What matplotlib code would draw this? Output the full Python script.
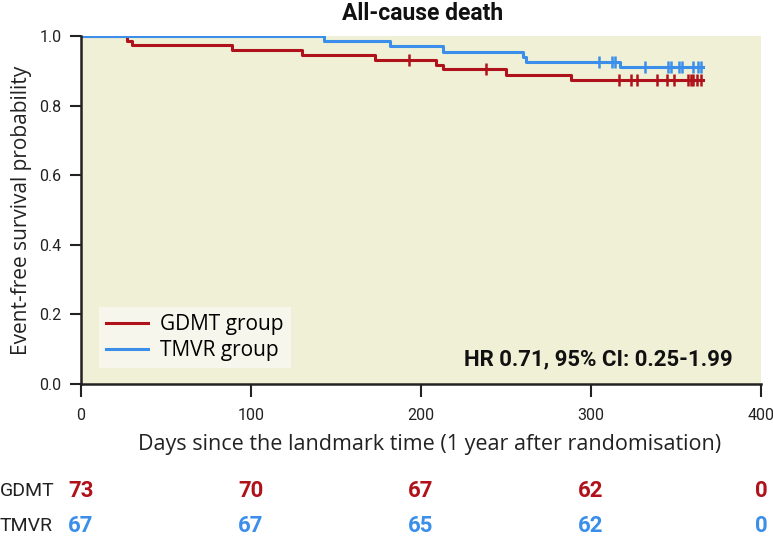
import numpy as np
import matplotlib
matplotlib.use('Agg')
import matplotlib.pyplot as plt

# step times (days) and survival after each step
gdmt_t = [0, 27, 30, 89, 130, 173, 209, 213, 250, 288]
gdmt_s = [1.0, 0.986, 0.973, 0.959, 0.945, 0.932, 0.918, 0.904, 0.889, 0.874]
gdmt_cens = [193, 238, 316.7, 323.5, 327, 338.6, 344.5, 349, 357.3, 358.8, 360.2, 362.2, 365]

tmvr_t = [0, 143, 182, 213, 260, 262, 317]
tmvr_s = [1.0, 0.985, 0.970, 0.955, 0.940, 0.925, 0.910]
tmvr_cens = [304.5, 312.4, 314, 331.8, 345.5, 347, 352, 353.7, 360.2, 362.7, 365]

end_day = 366
risk_days = [0, 100, 200, 300, 400]
gdmt_risk = [73, 70, 67, 62, 0]
tmvr_risk = [67, 67, 65, 62, 0]

red = '#B0121B'
blue = '#3B8EEA'
narrow = ['Roboto', 'DejaVu Sans']
plain = ['Open Sans', 'DejaVu Sans']

fig = plt.figure(figsize=(7.73, 5.36), dpi=100)
ax = fig.add_axes([81/773, 1-384/536, 680/773, 348/536])
ax.set_facecolor('#EFF0D6')


def km(t, s, cens, color, label):
    xs = list(t) + [end_day]
    ys = list(s) + [s[-1]]
    ax.step(xs, ys, where='post', color=color, lw=2.2, label=label)
    idx = np.searchsorted(t, cens, side='right') - 1
    ax.plot(cens, np.array(s)[idx], ls='none', marker='|', ms=9, mew=1.8, color=color)


km(gdmt_t, gdmt_s, gdmt_cens, red, 'GDMT group')
km(tmvr_t, tmvr_s, tmvr_cens, blue, 'TMVR group')

ax.set_xlim(0, 400)
ax.set_ylim(0, 1.0)
ax.set_xticks([0, 100, 200, 300, 400])
ax.set_yticks([0, 0.2, 0.4, 0.6, 0.8, 1.0])
ax.set_yticklabels(['0.0', '0.2', '0.4', '0.6', '0.8', '1.0'])
for sp in ['top', 'right']:
    ax.spines[sp].set_visible(False)
for sp in ['left', 'bottom']:
    ax.spines[sp].set_linewidth(1.8)
    ax.spines[sp].set_color('#222222')
ax.tick_params(axis='y', length=8, width=1.5, pad=6, colors='#222222')
ax.tick_params(axis='x', length=9, width=1.5, pad=8, colors='#222222')
for lab in ax.get_xticklabels() + ax.get_yticklabels():
    lab.set_fontfamily(narrow)
    lab.set_fontsize(11.5)

ax.set_ylabel('Event-free survival probability', fontsize=15, family=plain, labelpad=5, color='#222222')
ax.text(0.512, -0.175, 'Days since the landmark time (1 year after randomisation)', transform=ax.transAxes,
        ha='center', va='center', fontsize=15.5, family=plain, color='#222222')
fig.text(423/773, 1-13/536, 'All-cause death', ha='center', va='center', fontsize=16.5,
         fontweight='bold', family=narrow, color='#111111')

leg = ax.legend(loc='lower left', bbox_to_anchor=(0.026, 0.045), prop={'family': plain, 'size': 15},
                frameon=True, fancybox=False, handlelength=2.0, handletextpad=0.6,
                borderpad=0.35, labelspacing=0.25, borderaxespad=0)
leg.get_frame().set_facecolor('#F7F6EC')
leg.get_frame().set_edgecolor('none')
leg.get_frame().set_alpha(1)

ax.text(0.959, 0.038, 'HR 0.71, 95% CI: 0.25-1.99', transform=ax.transAxes, ha='right', va='bottom',
        fontsize=16, fontweight='bold', family=narrow, color='#111111')

tr = ax.get_xaxis_transform()
for d, g, t in zip(risk_days, gdmt_risk, tmvr_risk):
    ax.text(d, -0.307, str(g), transform=tr, ha='center', va='center', fontsize=16,
            fontweight='bold', family=narrow, color=red, clip_on=False)
    ax.text(d, -0.408, str(t), transform=tr, ha='center', va='center', fontsize=16,
            fontweight='bold', family=narrow, color=blue, clip_on=False)
fig.text(0.0, 1-491/536, 'GDMT', ha='left', va='center', fontsize=14, family=narrow, color='#222222')
fig.text(0.0, 1-526/536, 'TMVR', ha='left', va='center', fontsize=14, family=narrow, color='#222222')

fig.savefig('out.png', dpi=100)
